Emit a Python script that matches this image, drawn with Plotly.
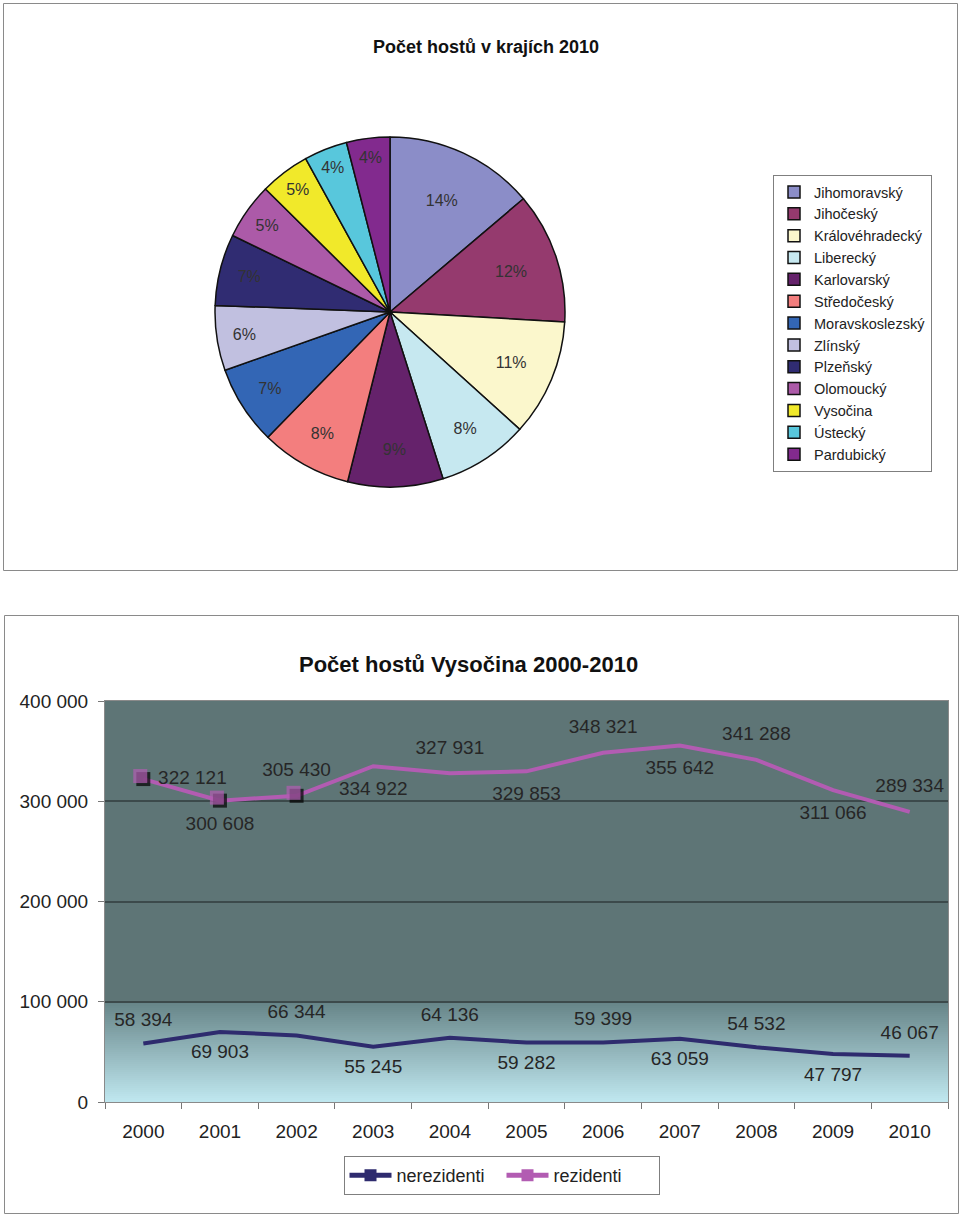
import plotly.graph_objects as go

# ---------------- data ----------------
regions = ["Jihomoravský", "Jihočeský", "Královéhradecký", "Liberecký", "Karlovarský",
           "Středočeský", "Moravskoslezský", "Zlínský", "Plzeňský", "Olomoucký",
           "Vysočina", "Ústecký", "Pardubický"]
region_share = [13.8, 12.1, 10.8, 8.4, 8.8, 8.4, 7.3, 6.0, 6.6, 5.2, 4.6, 4.0, 4.0]

years = ["2000", "2001", "2002", "2003", "2004", "2005", "2006", "2007", "2008", "2009", "2010"]
nerezidenti = [58394, 69903, 66344, 55245, 64136, 59282, 59399, 63059, 54532, 47797, 46067]
rezidenti = [322121, 300608, 305430, 334922, 327931, 329853, 348321, 355642, 341288, 311066, 289334]

# ---------------- styles ----------------
W, H = 960, 1216
FONT = "Liberation Sans, Arial, sans-serif"
region_colors = ["#8B8DC8", "#953A6E", "#FBF7CC", "#C6E8F0", "#65226B", "#F37E7E", "#3366B5",
                 "#C1C0E0", "#302C72", "#AC5AA8", "#F1E92A", "#58C7DC", "#822A8E"]
NAVY = "#2E2B6E"
PINK = "#B25CB2"
TINY = 0.01
rez_marker_sizes = [14, 14, 14, TINY, TINY, TINY, TINY, TINY, TINY, TINY, TINY]
rez_label_pos = ["middle right", "bottom center", "top center", "bottom center", "top center",
                 "bottom center", "top center", "bottom center", "top center", "bottom center",
                 "top center"]
ner_label_pos = ["top center", "bottom center", "top center", "bottom center", "top center",
                 "bottom center", "top center", "bottom center", "top center", "bottom center",
                 "top center"]


def px(x):
    return x / W


def py(y):
    return 1 - y / H


fig = go.Figure()

# ---------------- pie ----------------
fig.add_trace(go.Pie(
    labels=regions, values=region_share, sort=False, direction="clockwise", rotation=0,
    marker=dict(colors=region_colors, line=dict(color="#111111", width=1.5)),
    texttemplate="%{percent:.0%}", textposition="inside", insidetextorientation="horizontal",
    textfont=dict(family=FONT, size=16, color="#333333"),
    domain=dict(x=[px(215), px(565)], y=[py(487), py(137)]),
    legend="legend", hoverinfo="label+percent",
))

# ---------------- line chart ----------------
fig.add_trace(go.Scatter(
    x=years, y=nerezidenti, name="nerezidenti", mode="lines+markers",
    line=dict(color=NAVY, width=4),
    marker=dict(symbol="square", size=TINY, color=NAVY, line=dict(width=0)),
    legend="legend2",
))
fig.add_trace(go.Scatter(
    x=years, y=rezidenti, name="rezidenti", mode="lines+markers",
    line=dict(color=PINK, width=4),
    marker=dict(symbol="square", size=TINY, color=PINK, line=dict(width=0)),
    legend="legend2",
))
# marker shadows
fig.add_trace(go.Scatter(
    x=years, y=rezidenti, mode="markers", showlegend=False, hoverinfo="skip",
    marker=dict(symbol="square", size=rez_marker_sizes, color="#000000", line=dict(width=0)),
))
# labels
fig.add_trace(go.Scatter(
    x=years, y=nerezidenti, mode="markers+text", showlegend=False, hoverinfo="skip",
    marker=dict(size=18, opacity=0), texttemplate="%{y:,.0f}", textposition=ner_label_pos,
    textfont=dict(family=FONT, size=19, color="#262626"),
))
fig.add_trace(go.Scatter(
    x=years, y=rezidenti, mode="markers+text", showlegend=False, hoverinfo="skip",
    marker=dict(size=22, opacity=0), texttemplate="%{y:,.0f}", textposition=rez_label_pos,
    textfont=dict(family=FONT, size=19, color="#262626"),
))
# pink markers (overlay axes, slightly offset above the shadow)
fig.add_trace(go.Scatter(
    x=years, y=rezidenti, mode="markers", showlegend=False, hoverinfo="skip",
    xaxis="x2", yaxis="y2",
    marker=dict(symbol="square", size=rez_marker_sizes, color=PINK, line=dict(width=0)),
))

# gradient strips below 100 000
shapes = []
N = 50
c0 = (0xC0, 0xE8, 0xF0)
c1 = (0x66, 0x84, 0x87)
for i in range(N):
    t = (i + 0.5) / N
    col = tuple(int(round(c0[k] + (c1[k] - c0[k]) * t)) for k in range(3))
    shapes.append(dict(type="rect", xref="x domain", yref="y", x0=0, x1=1,
                       y0=100000 * i / N, y1=min(100000, 100000 * (i + 1.8) / N),
                       fillcolor="rgb(%d,%d,%d)" % col, line=dict(width=0), layer="below"))
# panel borders
shapes.append(dict(type="rect", xref="paper", yref="paper", x0=px(3.5), x1=px(957.5),
                   y0=py(570.5), y1=py(3.5), line=dict(color="#8a8a8a", width=1)))
shapes.append(dict(type="rect", xref="paper", yref="paper", x0=px(4.5), x1=px(958.5),
                   y0=py(1213.5), y1=py(615.5), line=dict(color="#8a8a8a", width=1)))

annotations = [
    dict(text="Počet hostů v krajích 2010", x=px(486), y=py(47), xref="paper", yref="paper",
         showarrow=False, xanchor="center", yanchor="middle",
         font=dict(family=FONT, size=18, color="#111111", weight="bold")),
    dict(text="Počet hostů Vysočina 2000-2010", x=px(468), y=py(664), xref="paper", yref="paper",
         showarrow=False, xanchor="center", yanchor="middle",
         font=dict(family=FONT, size=22, color="#111111", weight="bold")),
]

fig.update_layout(
    width=W, height=H, autosize=False,
    margin=dict(l=0, r=0, t=0, b=0, pad=0, autoexpand=False),
    paper_bgcolor="white", plot_bgcolor="#5E7576",
    separators=". ",
    font=dict(family=FONT, color="#222222"),
    shapes=shapes, annotations=annotations,
    xaxis=dict(domain=[px(105), px(948)], anchor="y", type="category", range=[-0.5, 10.5],
               tickson="boundaries", ticks="outside", ticklen=6, tickcolor="#777777",
               showline=True, linecolor="#8a8a8a", linewidth=1, mirror=True,
               showgrid=False, tickfont=dict(family=FONT, size=19, color="#222222"),
               ticklabelstandoff=12, fixedrange=True, automargin=False),
    yaxis=dict(domain=[py(1102), py(701)], anchor="x", range=[0, 400000], dtick=100000,
               tickformat=",.0f",
               ticks="outside", ticklen=6, tickcolor="#777777",
               showline=True, linecolor="#8a8a8a", linewidth=1, mirror=True,
               showgrid=True, gridcolor="#3C4A4B", gridwidth=1.5, zeroline=False,
               tickfont=dict(family=FONT, size=19, color="#222222"),
               ticklabelstandoff=6, fixedrange=True, automargin=False),
    xaxis2=dict(overlaying="x", type="category", range=[-0.5 + 0.04, 10.5 + 0.04],
                visible=False, showgrid=False),
    yaxis2=dict(overlaying="y", range=[-3000, 397000], visible=False, showgrid=False),
    legend=dict(x=px(773), y=py(175), xanchor="left", yanchor="top",
                bordercolor="#7f7f7f", borderwidth=1, bgcolor="white", itemwidth=30,
                font=dict(family=FONT, size=14.5, color="#222222"), tracegroupgap=0),
    legend2=dict(x=px(501.5), y=py(1156), xanchor="center", yanchor="top",
                 orientation="h", bordercolor="#7f7f7f", borderwidth=1, bgcolor="white",
                 itemsizing="constant", itemwidth=42, entrywidth=100,
                 font=dict(family=FONT, size=18, color="#222222")),
)

fig.write_html("out.html", config={"displayModeBar": False},
               post_script="document.body.style.margin='0';document.body.style.overflow='hidden';")
